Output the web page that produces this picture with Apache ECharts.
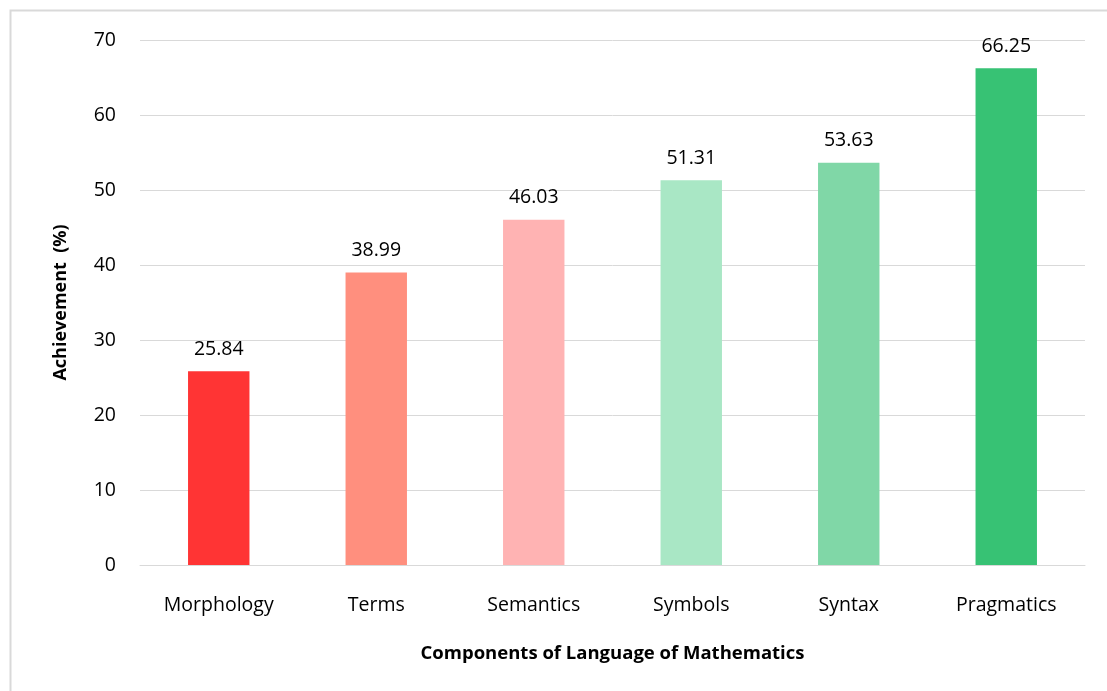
<!DOCTYPE html>
<html>
<head>
<meta charset="utf-8">
<script src="https://cdn.jsdelivr.net/npm/echarts@6/dist/echarts.min.js"></script>
<style>
  html, body { margin: 0; padding: 0; background: #fff; }
  #chart { width: 1107px; height: 691px; }
</style>
</head>
<body>
<div id="chart"></div>
<script>
// data
const categories = ["Morphology", "Terms", "Semantics", "Symbols", "Syntax", "Pragmatics"];
const achievement = [25.84, 38.99, 46.03, 51.31, 53.63, 66.25];
const barColors = ["#ff3434", "#ff8f7e", "#ffb3b3", "#a9e7c5", "#80d7a7", "#37c274"];

const myChart = echarts.init(document.getElementById("chart"));
const font = "'Open Sans', sans-serif";

myChart.setOption({
  animation: false,
  textStyle: { fontFamily: font },
  graphic: [
    {
      type: "rect",
      shape: { x: 10.5, y: 10.5, width: 1200, height: 800 },
      style: { fill: "none", stroke: "#d9d9d9", lineWidth: 2 },
      silent: true
    }
  ],
  grid: { left: 140, right: 22, top: 40, bottom: 126 },
  xAxis: {
    type: "category",
    data: categories,
    axisTick: { show: false },
    axisLine: { lineStyle: { color: "#d9d9d9", width: 1 } },
    axisLabel: { color: "#000", fontSize: 19.5, margin: 30, fontFamily: font },
    name: "Components of Language of Mathematics",
    nameLocation: "middle",
    nameGap: 79,
    nameTextStyle: { color: "#000", fontSize: 18.5, fontWeight: "bold", fontFamily: font }
  },
  yAxis: {
    type: "value",
    min: 0,
    max: 70,
    interval: 10,
    axisLine: { show: false },
    axisTick: { show: false },
    splitLine: { lineStyle: { color: "#d9d9d9", width: 1 } },
    axisLabel: { color: "#000", fontSize: 19.5, margin: 24, fontFamily: font },
    name: "Achievement  (%)",
    nameLocation: "middle",
    nameRotate: 90,
    nameGap: 70,
    nameTextStyle: { color: "#000", fontSize: 18, fontWeight: "bold", fontFamily: font }
  },
  series: [
    {
      type: "bar",
      barWidth: "39%",
      data: achievement.map((v, i) => ({ value: v, itemStyle: { color: barColors[i] } })),
      label: {
        show: true,
        position: "top",
        distance: 12,
        color: "#000",
        fontSize: 19.5,
        fontFamily: font,
        formatter: p => p.value.toFixed(2)
      }
    }
  ]
});
</script>
</body>
</html>
